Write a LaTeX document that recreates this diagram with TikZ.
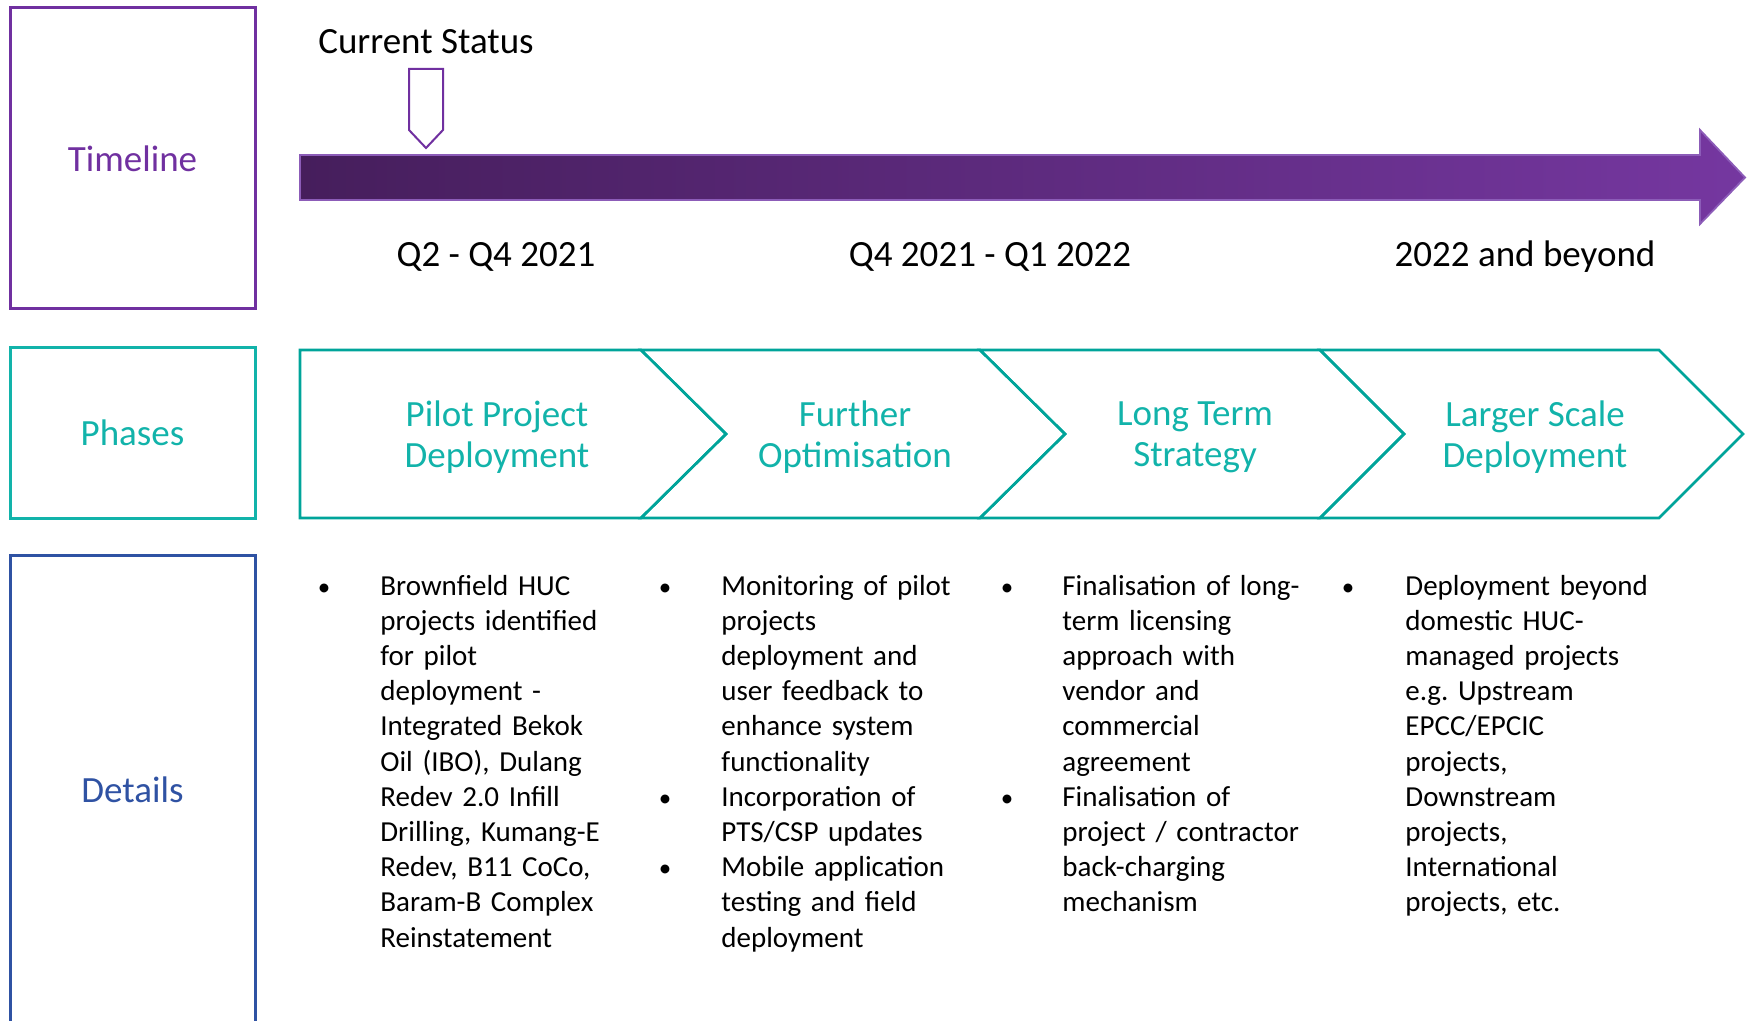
\documentclass[tikz,border=0pt]{standalone}
\usepackage{fontspec}
\setmainfont{Carlito}
\frenchspacing
\definecolor{tlpurple}{HTML}{7030A0}
\definecolor{barborder}{HTML}{8C5CB8}
\definecolor{darkpurple}{HTML}{461E5C}
\definecolor{arrowpurple}{HTML}{7537A0}
\definecolor{phteal}{HTML}{12B3AA}
\definecolor{chevteal}{HTML}{00A49A}
\definecolor{detblue}{HTML}{2F52A3}
\begin{document}
\begin{tikzpicture}[x=0.5pt,y=-0.5pt,
  labelbox/.style={draw, line width=1.5pt, minimum width=122.5pt, inner sep=0pt, font=\fontsize{18.5}{20}\selectfont},
  big/.style={font=\fontsize{18.5}{20.5}\selectfont, inner sep=0pt},
  chev/.style={draw=chevteal, line width=1.3pt, line join=miter},
  chevtext/.style={text=phteal, align=center, inner sep=0pt, font=\fontsize{18.5}{20.5}\selectfont},
  det/.style={font=\fontsize{14.5}{17.6}\selectfont, align=left, text width=135pt, inner sep=0pt, anchor=base west},
  bul/.style={font=\fontsize{12.5}{17.6}\selectfont, inner sep=0pt, anchor=base}
]
\useasboundingbox (0,0) rectangle (1748,1021);
% left label boxes
\node[labelbox, draw=tlpurple, text=tlpurple, minimum height=150.5pt] (tl) at (132.5,158.5) {Timeline};
\node[labelbox, draw=phteal, text=phteal, minimum height=85.5pt] (ph) at (132.5,432.5) {Phases};
\node[labelbox, draw=detblue, text=detblue, minimum height=235pt] (dt) at (132.5,790) {Details};
% timeline arrow
\shade[left color=darkpurple, right color=arrowpurple, draw=barborder, line width=0.9pt]
  (300,155) -- (1700,155) -- (1700,130) -- (1745,177.5) -- (1700,224) -- (1700,200) -- (300,200) -- cycle;
% current status pointer
\draw[draw=tlpurple, fill=white, line width=1pt] (409,69) -- (443,69) -- (443,130) -- (426,148) -- (409,130) -- cycle;
\node[big, anchor=base] (cs) at (426,54) {Current Status};
% time labels
\node[big, anchor=base] (t1) at (496,267) {Q2 - Q4 2021};
\node[big, anchor=base] (t2) at (990,267) {Q4 2021 - Q1 2022};
\node[big, anchor=base] (t3) at (1525,267) {2022 and beyond};
% chevrons
\draw[chev] (300,350) -- (641,350) -- (726,434) -- (641,518) -- (300,518) -- cycle;
\draw[chev] (641,350) -- (980,350) -- (1065,434) -- (980,518) -- (641,518) -- (726,434) -- cycle;
\draw[chev] (980,350) -- (1320,350) -- (1404,434) -- (1320,518) -- (980,518) -- (1065,434) -- cycle;
\draw[chev] (1320,350) -- (1659,350) -- (1743,434) -- (1659,518) -- (1320,518) -- (1404,434) -- cycle;
\node[chevtext] (p1) at (497,437.5) {Pilot Project\\Deployment};
\node[chevtext] (p2) at (855,437.5) {Further\\Optimisation};
\node[chevtext] (p3) at (1195,437.5) {Long Term\\Strategy};
\node[chevtext] (p4) at (1535,437.5) {Larger Scale\\Deployment};
% details column 1
\node[bul] (b11) at (324,595) {•};
\node[det] (d11) at (380,595) {Brownfield HUC\\projects identified\\for pilot\\deployment -\\Integrated Bekok\\Oil (IBO), Dulang\\Redev 2.0 Infill\\Drilling, Kumang-E\\Redev, B11 CoCo,\\Baram-B Complex\\Reinstatement};
% details column 2
\node[bul] (b21) at (665,595) {•};
\node[det] (d21) at (721,595) {Monitoring of pilot\\projects\\deployment and\\user feedback to\\enhance system\\functionality};
\node[bul] (b22) at (665,806.2) {•};
\node[det] (d22) at (721,806.2) {Incorporation of\\PTS/CSP updates};
\node[bul] (b23) at (665,876.6) {•};
\node[det] (d23) at (721,876.6) {Mobile application\\testing and field\\deployment};
% details column 3
\node[bul] (b31) at (1007,595) {•};
\node[det] (d31) at (1062,595) {Finalisation of long-\\term licensing\\approach with\\vendor and\\commercial\\agreement};
\node[bul] (b32) at (1007,806.2) {•};
\node[det] (d32) at (1062,806.2) {Finalisation of\\project / contractor\\back-charging\\mechanism};
% details column 4
\node[bul] (b41) at (1348,595) {•};
\node[det] (d41) at (1405,595) {Deployment beyond\\domestic HUC-\\managed projects\\e.g. Upstream\\EPCC/EPCIC\\projects,\\Downstream\\projects,\\International\\projects, etc.};
\end{tikzpicture}
\end{document}
